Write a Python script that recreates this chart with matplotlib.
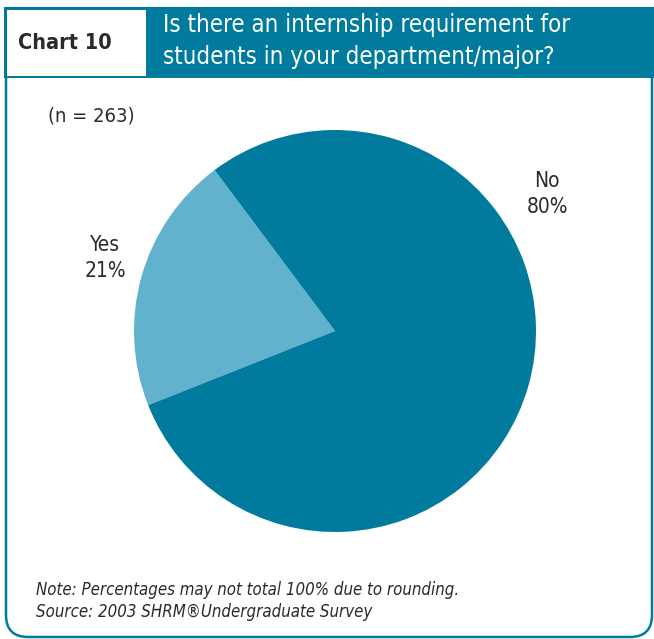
import matplotlib.pyplot as plt
from matplotlib.patches import Rectangle, FancyBboxPatch

W, H = 654, 639

labels = ["Yes", "No"]
values = [21, 80]
n_resp = 263
title = "Is there an internship requirement for\nstudents in your department/major?"
chart_no = "Chart 10"
notes = ["Note: Percentages may not total 100% due to rounding.",
         "Source: 2003 SHRM\u00aeUndergraduate Survey"]

teal = "#007b9d"
light = "#62b1cd"
ink = "#2a2a2a"
plt.rcParams['font.family'] = ['DejaVu Sans']
plt.rcParams['font.stretch'] = 'condensed'

fig = plt.figure(figsize=(W / 100, H / 100), dpi=100)
bg = fig.add_axes([0, 0, 1, 1])
bg.set_xlim(0, W)
bg.set_ylim(H, 0)
bg.axis("off")

# outer frame with rounded bottom corners
bg.add_patch(FancyBboxPatch((6, 30), W - 8, H - 32, boxstyle="round,pad=0,rounding_size=22",
                            fc="white", ec=teal, lw=1.8))
# header band and the white chart-number box
bg.add_patch(Rectangle((4, 7), W - 4, 71, fc=teal, ec="none"))
bg.add_patch(Rectangle((7, 10), 139, 66, fc="white", ec="none"))
bg.text(18, 43, chart_no, fontsize=15.5, fontweight="bold", color=ink, va="center")
bg.text(163, 41, title, fontsize=17.2, color="white", va="center", linespacing=1.4)

bg.text(48, 116, f"(n = {n_resp})", fontsize=14.5, color=ink, va="center")
bg.text(36, 590, notes[0], fontsize=12.1, style="italic", color=ink, va="center")
bg.text(36, 612, notes[1], fontsize=12.1, style="italic", color=ink, va="center")

# pie, centred at (335, 331) px with a 201 px radius
cx, cy, r = 335, 331, 201
pie_ax = fig.add_axes([(cx - r) / W, 1 - (cy + r) / H, 2 * r / W, 2 * r / H])
pie_ax.pie(values, colors=[light, teal], startangle=126.8, counterclock=True,
           wedgeprops=dict(linewidth=0))
pie_ax.set_xlim(-1, 1)
pie_ax.set_ylim(-1, 1)
pie_ax.axis("off")

bg.text(105, 258, f"{labels[0]}\n{values[0]}%", fontsize=15, color=ink,
        ha="center", va="center", linespacing=1.35)
bg.text(547, 194, f"{labels[1]}\n{values[1]}%", fontsize=15, color=ink,
        ha="center", va="center", linespacing=1.35)

fig.savefig("out.png", dpi=100)
